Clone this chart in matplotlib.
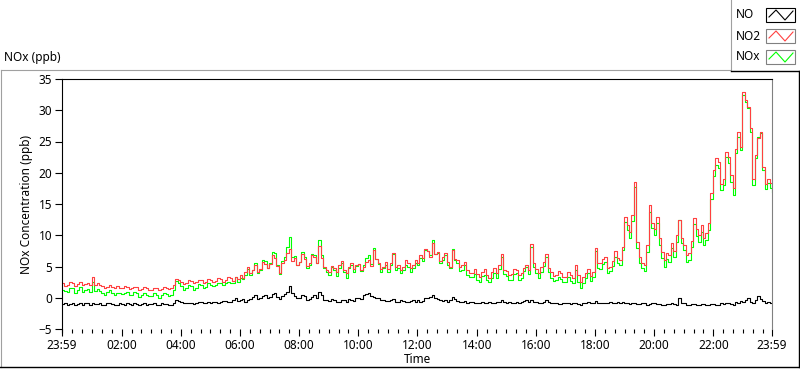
import numpy as np
import matplotlib
matplotlib.use('Agg')
import matplotlib.pyplot as plt
from matplotlib.lines import Line2D
from matplotlib.patches import Rectangle

plt.rcParams['font.family'] = ['Noto Sans', 'DejaVu Sans']

# minutes after 23:59, one reading every 5 minutes (one row = one hour)
minutes = np.arange(0, 1441, 5)

# NO2 (ppb)
no2 = [2.3, 1.9, 2.1, 2.6, 2.4, 1.9, 2.2, 2.5, 2.0, 2.2, 2.3, 2.0,
       3.4, 2.1, 2.4, 2.0, 1.9, 1.6, 1.8, 2.1, 1.7, 1.5, 1.9, 1.6,
       1.6, 1.9, 1.8, 1.4, 1.5, 1.8, 1.7, 1.3, 1.4, 1.7, 1.6, 1.3,
       1.3, 1.6, 1.5, 1.2, 1.4, 1.7, 1.6, 1.4, 1.5, 2.0, 3.0, 2.8,
       2.6, 2.2, 2.4, 2.8, 2.7, 2.3, 2.5, 2.9, 2.8, 2.4, 2.6, 3.0,
       2.9, 2.6, 2.7, 3.1, 3.0, 2.6, 2.8, 3.3, 3.1, 2.7, 3.3, 3.0,
       3.6, 3.2, 4.2, 4.9, 3.9, 4.4, 5.2, 4.1, 4.6, 5.8, 5.4, 4.7,
       5.4, 6.8, 6.3, 5.1, 4.0, 5.6, 6.0, 7.2, 7.8, 5.9, 6.4, 5.3,
       5.8, 7.0, 6.2, 5.1, 5.5, 6.8, 6.5, 5.6, 8.3, 6.4, 5.0, 4.5,
       4.2, 5.1, 4.8, 4.1, 5.3, 5.9, 4.5, 3.9, 5.0, 5.6, 4.6, 5.2,
       5.4, 4.5, 4.9, 5.8, 6.0, 5.1, 7.7, 6.2, 5.5, 4.6, 5.0, 5.7,
       4.6, 5.5, 7.2, 5.0, 5.3, 4.4, 4.9, 6.0, 5.6, 4.7, 5.2, 6.1,
       5.6, 6.9, 6.4, 7.8, 7.5, 6.6, 8.8, 7.0, 7.3, 5.9, 6.5, 7.2,
       5.8, 5.0, 7.6, 6.2, 6.0, 4.9, 5.2, 5.8, 4.4, 3.9, 4.0, 4.6,
       3.8, 3.3, 4.2, 4.6, 3.6, 3.2, 4.1, 4.7, 3.9, 5.2, 7.0, 4.5,
       4.3, 3.6, 3.8, 4.6, 4.5, 3.7, 3.9, 4.8, 5.2, 4.4, 8.6, 5.6,
       4.6, 4.0, 5.0, 5.7, 7.0, 4.8, 4.1, 3.5, 3.6, 4.3, 4.0, 3.4,
       3.4, 4.1, 3.7, 3.2, 5.3, 3.6, 2.6, 3.3, 4.0, 4.6, 3.5, 4.2,
       8.0, 5.6, 5.5, 6.2, 6.6, 4.8, 5.0, 5.9, 7.5, 6.3, 6.0, 8.2,
       13.0, 11.6, 10.5, 13.2, 18.5, 9.0, 6.5, 5.6, 5.2, 8.4, 14.8, 12.0,
       11.0, 13.0, 9.5, 7.4, 6.0, 7.2, 6.8, 8.8, 7.5, 10.0, 12.4, 9.6,
       8.5, 6.9, 7.2, 9.1, 12.8, 11.0, 10.0, 11.6, 9.5, 10.3, 12.0, 16.8,
       20.5, 22.4, 21.8, 18.2, 19.0, 23.4, 22.5, 19.6, 17.5, 23.8, 26.5, 24.2,
       33.0, 31.6, 30.5, 27.2, 19.0, 22.8, 25.5, 26.6, 21.0, 18.2, 19.0, 18.4,
       17.8]

# NO (ppb)
no = [-1.0, -0.8, -1.1, -1.0, -0.9, -1.2, -1.0, -0.8, -1.1, -0.9, -0.9, -1.1,
      -0.8, -1.0, -1.0, -0.9, -1.1, -1.2, -0.9, -0.8, -1.0, -1.1, -1.1, -0.9,
      -1.0, -1.2, -0.9, -1.0, -1.1, -0.9, -1.0, -1.2, -1.0, -0.9, -1.1, -1.0,
      -1.0, -0.9, -1.1, -1.2, -0.9, -1.0, -1.0, -1.1, -1.1, -0.8, -0.3, -0.5,
      -0.7, -0.9, -0.9, -0.8, -0.8, -1.0, -0.9, -0.7, -0.7, -0.9, -0.8, -0.6,
      -0.8, -0.7, -0.6, -0.8, -0.7, -0.5, -0.5, -0.7, -0.7, -0.4, 0.0, -0.5,
      -0.4, -0.2, -0.6, -0.3, -0.2, 0.1, 0.4, -0.2, -0.1, 0.3, 0.5, 0.0,
      0.2, 0.6, 0.8, 0.1, -0.2, 0.3, 0.6, 1.0, 1.9, 0.7, 0.3, 0.0,
      -0.1, 0.4, 0.3, -0.3, -0.2, 0.2, 0.4, 0.0, 1.0, 0.5, -0.3, -0.4,
      -0.5, -0.2, -0.3, -0.6, -0.6, -0.3, -0.4, -0.7, -0.2, -0.4, -0.5, -0.1,
      0.0, -0.2, 0.4, 0.6, 0.8, 0.3, 0.2, 0.0, -0.1, -0.4, -0.3, -0.5,
      -0.5, -0.3, -0.2, -0.6, -0.6, -0.4, -0.5, -0.7, -0.7, -0.5, -0.4, -0.6,
      -0.3, -0.6, -0.5, -0.1, 0.0, 0.2, 0.5, 0.0, -0.2, -0.4, -0.5, -0.3,
      -0.6, -0.3, 0.2, -0.2, -0.5, -0.6, -0.7, -0.5, -0.8, -0.6, -0.7, -0.8,
      -0.9, -0.8, -0.7, -0.9, -0.8, -0.7, -0.9, -0.8, -0.7, -0.6, -0.4, -0.7,
      -0.8, -0.7, -0.9, -0.8, -0.6, -0.8, -0.7, -0.5, -0.3, -0.6, -0.4, -0.7,
      -0.7, -0.9, -0.8, -0.6, -0.4, -0.7, -0.9, -0.8, -0.8, -1.0, -1.0, -0.9,
      -0.9, -0.8, -1.0, -0.9, -0.8, -1.0, -1.1, -0.9, -0.9, -0.7, -0.8, -0.9,
      -0.5, -0.8, -0.9, -0.8, -0.8, -0.9, -0.7, -0.8, -0.9, -0.7, -0.8, -0.6,
      -0.9, -0.8, -1.0, -0.9, -0.8, -1.0, -1.0, -0.9, -0.9, -1.1, -1.0, -0.9,
      -0.9, -1.0, -1.0, -1.1, -1.1, -1.0, -1.0, -0.9, -1.0, -1.1, 0.0, -0.8,
      -0.9, -1.1, -1.1, -1.0, -1.0, -1.1, -1.1, -1.0, -1.0, -1.1, -1.1, -1.0,
      -1.0, -1.1, -1.1, -0.9, -1.0, -0.8, -0.9, -1.0, -1.1, -0.7, -0.8, -0.5,
      -0.6, -0.3, -0.1, -0.6, -0.9, -0.4, 0.3, -0.2, -0.5, -0.8, -0.7, -0.9,
      -0.8]

# NOx (ppb)
nox = [1.3, 1.1, 1.0, 1.6, 1.5, 0.7, 1.2, 1.7, 0.9, 1.3, 1.4, 0.9,
       2.6, 1.1, 1.4, 1.1, 0.8, 0.4, 0.9, 1.3, 0.7, 0.4, 0.8, 0.7,
       0.6, 0.7, 0.9, 0.4, 0.4, 0.9, 0.7, 0.1, 0.4, 0.8, 0.5, 0.3,
       0.3, 0.7, 0.4, 0.0, 0.5, 0.7, 0.6, 0.3, 0.4, 1.2, 2.7, 2.3,
       1.9, 1.3, 1.5, 2.0, 1.9, 1.3, 1.6, 2.2, 2.1, 1.5, 1.8, 2.4,
       2.1, 1.9, 2.1, 2.3, 2.3, 2.1, 2.3, 2.6, 2.4, 2.3, 3.3, 2.5,
       3.2, 3.0, 3.6, 4.6, 3.7, 4.5, 5.6, 3.9, 4.5, 6.1, 5.9, 4.7,
       5.6, 7.4, 7.1, 5.2, 3.8, 5.9, 6.6, 8.2, 9.7, 6.6, 6.7, 5.3,
       5.7, 7.4, 6.5, 4.8, 5.3, 7.0, 6.9, 5.6, 9.3, 6.9, 4.7, 4.1,
       3.7, 4.9, 4.5, 3.5, 4.7, 5.6, 4.1, 3.2, 4.8, 5.2, 4.1, 5.1,
       5.4, 4.3, 5.3, 6.4, 6.8, 5.4, 7.9, 6.2, 5.4, 4.2, 4.7, 5.2,
       4.1, 5.2, 7.0, 4.4, 4.7, 4.0, 4.4, 5.3, 4.9, 4.2, 4.8, 5.5,
       5.3, 6.3, 5.9, 7.7, 7.5, 6.8, 9.3, 7.0, 7.1, 5.5, 6.0, 6.9,
       5.2, 4.7, 7.8, 6.0, 5.5, 4.3, 4.5, 5.3, 3.6, 3.3, 3.3, 3.8,
       2.9, 2.5, 3.5, 3.7, 2.8, 2.5, 3.2, 3.9, 3.2, 4.6, 6.6, 3.8,
       3.5, 2.9, 2.9, 3.8, 3.9, 2.9, 3.2, 4.3, 4.9, 3.8, 8.2, 4.9,
       3.9, 3.1, 4.2, 5.1, 6.6, 4.1, 3.2, 2.7, 2.8, 3.3, 3.0, 2.5,
       2.5, 3.3, 2.7, 2.3, 4.5, 2.6, 1.5, 2.4, 3.1, 3.9, 2.7, 3.3,
       7.5, 4.8, 4.6, 5.4, 5.8, 3.9, 4.3, 5.1, 6.6, 5.6, 5.2, 7.6,
       12.1, 10.8, 9.5, 12.3, 17.7, 8.0, 5.5, 4.7, 4.3, 7.3, 13.8, 11.1,
       10.1, 12.0, 8.5, 6.3, 4.9, 6.2, 5.8, 7.9, 6.5, 8.9, 12.4, 8.8,
       7.6, 5.8, 6.1, 8.1, 11.8, 9.9, 8.9, 10.6, 8.5, 9.2, 10.9, 15.8,
       19.5, 21.3, 20.7, 17.3, 18.0, 22.6, 21.6, 18.6, 16.4, 23.1, 25.7, 23.7,
       32.4, 31.3, 30.4, 26.6, 18.1, 22.4, 25.8, 26.4, 20.5, 17.4, 18.3, 17.5,
       17.0]

tick_pos = [0, 121, 241, 361, 481, 601, 721, 841, 961, 1081, 1201, 1321, 1440]
tick_labels = ['23:59', '02:00', '04:00', '06:00', '08:00', '10:00', '12:00',
               '14:00', '16:00', '18:00', '20:00', '22:00', '23:59']

W, H = 800, 369


def fx(x):
    return x / W


def fy(y):
    return 1 - y / H


fig = plt.figure(figsize=(W / 100, H / 100), dpi=100)

# outer panel frame
fig.add_artist(Line2D([fx(0.5), fx(730)], [fy(70), fy(70)], color='#a0a0a0', lw=0.8))
fig.add_artist(Line2D([fx(0.5), fx(0.5)], [fy(70), fy(367)], color='#a0a0a0', lw=0.8))
fig.add_artist(Line2D([fx(0), fx(798.5)], [fy(367), fy(367)], color='black', lw=1))
fig.add_artist(Line2D([fx(798.5), fx(798.5)], [fy(71), fy(367)], color='black', lw=1))

fig.text(fx(4), fy(58), 'NOx (ppb)', fontsize=8.5, ha='left', va='center')

ax = fig.add_axes([fx(62), fy(329), 710 / W, 250 / H])
ax.plot(minutes, nox, color='#00ff00', lw=0.8, drawstyle='steps-post')
ax.plot(minutes, no2, color='#ff4040', lw=0.8, drawstyle='steps-post')
ax.plot(minutes, no, color='black', lw=0.8, drawstyle='steps-post')

ax.set_xlim(0, 1440)
ax.set_ylim(-5, 35)
ax.set_yticks(range(-5, 36, 5))
ax.set_xticks(tick_pos)
ax.set_xticklabels(tick_labels)
ax.set_xticks([m for m in range(1, 1440, 20) if m not in tick_pos], minor=True)
ax.tick_params(axis='both', which='major', direction='out', length=5, width=0.8,
               labelsize=8.5, pad=2)
ax.tick_params(axis='x', which='minor', direction='out', length=3, width=0.8)
ax.spines['bottom'].set_visible(False)
ax.spines['right'].set_color('#808080')
for s in ['left', 'top']:
    ax.spines[s].set_color('black')
for s in ax.spines.values():
    s.set_linewidth(0.8)

ax.set_ylabel('NOx Concentration (ppb)', fontsize=8.5, labelpad=4)
ax.set_xlabel('Time', fontsize=8.5, labelpad=1)

# legend box in top-right corner
fig.add_artist(Line2D([fx(730.5), fx(730.5)], [fy(0), fy(71)], color='#a0a0a0', lw=0.8))
fig.add_artist(Line2D([fx(730.5), fx(800)], [fy(71), fy(71)], color='black', lw=1))
names = ['NO', 'NO2', 'NOx']
colors = ['black', '#ff4040', '#00ff00']
edges = ['black', '#808080', '#808080']
tops = [8, 29, 50]
for name, col, ec, top in zip(names, colors, edges, tops):
    fig.text(fx(736), fy(top + 7), name, fontsize=8.5, ha='left', va='center')
    fig.add_artist(Rectangle((fx(766), fy(top + 14)), 29 / W, 14 / H,
                             transform=fig.transFigure, facecolor='white',
                             edgecolor=ec, lw=0.8))
    fig.add_artist(Line2D([fx(769), fx(776), fx(785), fx(793)],
                          [fy(top + 9), fy(top + 2), fy(top + 12), fy(top + 3)],
                          color=col, lw=0.8))

fig.savefig('out.png', dpi=100)
